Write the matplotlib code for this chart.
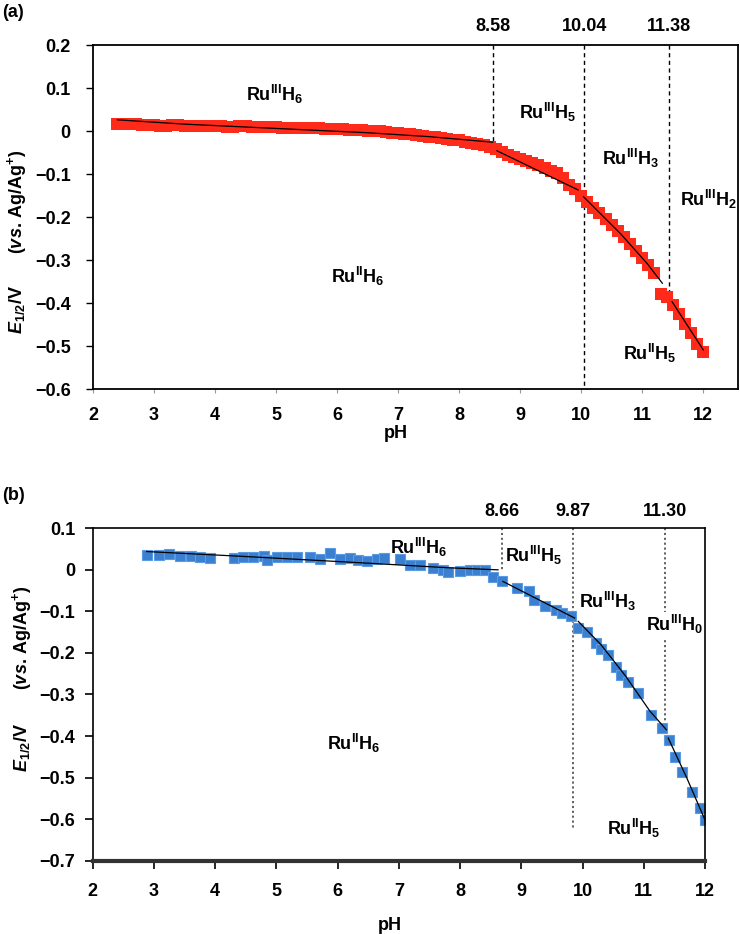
import matplotlib
matplotlib.use("Agg")
import matplotlib.pyplot as plt
import numpy as np

plt.rcParams['font.family'] = ['Liberation Sans', 'DejaVu Sans']
plt.rcParams['font.weight'] = 'bold'
plt.rcParams['mathtext.fontset'] = 'custom'
plt.rcParams['mathtext.rm'] = 'Liberation Sans:bold'
plt.rcParams['mathtext.bf'] = 'Liberation Sans:bold'
plt.rcParams['mathtext.it'] = 'Liberation Sans:italic:bold'

# ---------------- Panel (a) data ----------------
ph_a = [2.4, 2.5, 2.6, 2.7, 2.8, 2.9, 3.0,
        3.1, 3.2, 3.3, 3.4, 3.5, 3.6, 3.7, 3.8, 3.9, 4.0,
        4.1, 4.2, 4.3, 4.4, 4.5, 4.6, 4.7, 4.8, 4.9, 5.0,
        5.1, 5.2, 5.3, 5.4, 5.5, 5.6, 5.7, 5.8, 5.9, 6.0,
        6.1, 6.2, 6.3, 6.4, 6.5, 6.6, 6.7, 6.8, 6.9, 7.0,
        7.1, 7.2, 7.3, 7.4, 7.5, 7.6, 7.7, 7.8, 7.9, 8.0,
        8.1, 8.2, 8.3, 8.4, 8.5, 8.6, 8.7, 8.8, 8.9, 9.0,
        9.1, 9.2, 9.3, 9.4, 9.5, 9.6, 9.7, 9.8, 9.9, 10.0,
        10.1, 10.2, 10.3, 10.4, 10.5, 10.6, 10.7, 10.8, 10.9, 11.0,
        11.1, 11.2, 11.3, 11.4, 11.5, 11.6, 11.7, 11.8, 11.9, 12.0]
e_a = [0.017, 0.017, 0.016, 0.016, 0.015, 0.014, 0.013,
       0.012, 0.012, 0.013, 0.013, 0.012, 0.011, 0.011, 0.012, 0.012, 0.011,
       0.011, 0.010, 0.010, 0.011, 0.011, 0.010, 0.010, 0.009, 0.009, 0.009,
       0.008, 0.008, 0.008, 0.007, 0.007, 0.006, 0.006, 0.005, 0.005, 0.004,
       0.004, 0.003, 0.003, 0.002, 0.001, 0.000, -0.001, -0.002, -0.004, -0.005,
       -0.007, -0.008, -0.010, -0.012, -0.013, -0.015, -0.017, -0.018, -0.020, -0.022,
       -0.025, -0.027, -0.030, -0.033, -0.038, -0.042, -0.048, -0.055, -0.060, -0.065,
       -0.070, -0.075, -0.080, -0.086, -0.092, -0.098, -0.110, -0.125, -0.135, -0.150,
       -0.165, -0.178, -0.190, -0.205, -0.218, -0.232, -0.247, -0.262, -0.280, -0.295,
       -0.312, -0.330, -0.378, -0.385, -0.405, -0.425, -0.448, -0.470, -0.495, -0.515]

fit_a = [
    ([2.4, 3.5, 5.0, 6.5, 7.5, 8.55], [0.026, 0.016, 0.006, -0.004, -0.013, -0.026]),
    ([8.62, 9.95], [-0.046, -0.137]),
    ([10.04, 10.64, 11.08, 11.33], [-0.153, -0.238, -0.308, -0.354]),
    ([11.49, 12.0], [-0.397, -0.509]),
]
pka_a_labels = ['8.58', '10.04', '11.38']
pka_a_pos = [8.55, 10.05, 11.44]
pka_a_bottom = [-0.052, -0.6, -0.377]

species_a = [
    (r'Ru$^{\mathrm{III}}$H$_6$', 4.98, 0.084),
    (r'Ru$^{\mathrm{III}}$H$_5$', 9.44, 0.044),
    (r'Ru$^{\mathrm{III}}$H$_3$', 10.8, -0.064),
    (r'Ru$^{\mathrm{III}}$H$_2$', 12.08, -0.160),
    (r'Ru$^{\mathrm{II}}$H$_6$', 6.34, -0.339),
    (r'Ru$^{\mathrm{II}}$H$_5$', 11.13, -0.517),
]

# ---------------- Panel (b) data ----------------
ph_b = [2.88, 3.08, 3.24, 3.43, 3.60, 3.76, 3.92, 4.30, 4.46, 4.62, 4.79, 4.85,
        5.01, 5.17, 5.33, 5.55, 5.72, 5.88, 6.04, 6.20, 6.34, 6.48, 6.64, 6.75,
        7.02, 7.18, 7.35, 7.56, 7.72, 7.81, 8.00, 8.16, 8.27, 8.41, 8.54, 8.68,
        8.93, 9.12, 9.20, 9.39, 9.56, 9.67, 9.81, 9.92, 10.08, 10.22, 10.30, 10.41,
        10.55, 10.63, 10.74, 10.90, 11.12, 11.29, 11.42, 11.51, 11.62, 11.78, 11.92, 12.0]
e_b = [0.036, 0.036, 0.038, 0.033, 0.033, 0.031, 0.029, 0.029, 0.031, 0.031, 0.033, 0.024,
       0.031, 0.031, 0.031, 0.031, 0.026, 0.040, 0.026, 0.029, 0.023, 0.021, 0.026, 0.028,
       0.026, 0.012, 0.012, 0.004, 0.000, -0.006, -0.002, 0.000, 0.000, 0.000, -0.018, -0.026,
       -0.044, -0.052, -0.072, -0.088, -0.096, -0.104, -0.112, -0.141, -0.149, -0.177, -0.190, -0.205,
       -0.233, -0.253, -0.269, -0.297, -0.349, -0.381, -0.410, -0.450, -0.486, -0.534, -0.574, -0.602]

fit_b = [
    ([2.88, 4.5, 6.5, 7.8, 8.62], [0.044, 0.032, 0.016, 0.005, 0.0]),
    ([8.70, 9.87], [-0.028, -0.116]),
    ([9.93, 10.3, 10.7, 11.1, 11.37], [-0.124, -0.180, -0.255, -0.340, -0.385]),
    ([11.40, 11.7, 12.0], [-0.405, -0.500, -0.602]),
]
pka_b_labels = ['8.66', '9.87', '11.30']
pka_b_pos = [8.68, 9.85, 11.35]
pka_b_bottom = [0.0, -0.627, -0.378]

species_b = [
    (r'Ru$^{\mathrm{III}}$H$_6$', 7.32, 0.053, False),
    (r'Ru$^{\mathrm{III}}$H$_5$', 9.20, 0.034, False),
    (r'Ru$^{\mathrm{III}}$H$_3$', 10.40, -0.076, False),
    (r'Ru$^{\mathrm{III}}$H$_0$', 11.50, -0.132, True),
    (r'Ru$^{\mathrm{II}}$H$_6$', 6.27, -0.417, False),
    (r'Ru$^{\mathrm{II}}$H$_5$', 10.83, -0.622, False),
]

fig = plt.figure(figsize=(7.4, 9.34), dpi=100)
FS = 13

# ---------------- Panel (a) ----------------
axa = fig.add_axes([0.1257, 0.5835, 0.8716, 0.3683])
axa.set_xlim(2, 12.57)
axa.set_ylim(-0.6, 0.2)
axa.plot(ph_a, e_a, 's', color='#ff2a1a', markersize=8.5, markeredgewidth=0, zorder=2)
for xs, ys in fit_a:
    axa.plot(xs, ys, '-', color='black', lw=0.9, zorder=3)
for lab, xp, yb in zip(pka_a_labels, pka_a_pos, pka_a_bottom):
    axa.plot([xp, xp], [0.2, yb], color='black', lw=1.0, ls=(0, (3, 2.5)), zorder=1)
    axa.text(xp, 0.242, lab, ha='center', va='center', fontsize=FS, fontweight='bold',
             clip_on=False)
for s, xp, yp in species_a:
    axa.text(xp, yp, s, ha='center', va='center', fontsize=FS, fontweight='bold', clip_on=False)
axa.set_xticks(range(2, 13))
axa.set_yticks(np.arange(-0.6, 0.21, 0.1))
axa.set_yticklabels(['\u22120.6', '\u22120.5', '\u22120.4', '\u22120.3', '\u22120.2', '\u22120.1',
                     '0', '0.1', '0.2'])
axa.tick_params(axis='y', direction='out', length=5, width=1, labelsize=FS, pad=11)
axa.tick_params(axis='x', direction='out', length=3, width=0.8, color='#999999', labelsize=FS, pad=10)
for sp in axa.spines.values():
    sp.set_linewidth(1.3)
axa.set_xlabel('pH', fontsize=FS, fontweight='bold', labelpad=1)
axa.xaxis.set_label_coords(0.47, -0.105)
for lab in axa.get_xticklabels() + axa.get_yticklabels():
    lab.set_fontweight('bold')
axa.text(-0.118, 0.23, r'$E_{1/2}$/V', transform=axa.transAxes, rotation=90,
         ha='center', va='center', fontsize=FS)
axa.text(-0.118, 0.545, r'($\mathit{vs}$. Ag/Ag$^{+}$)', transform=axa.transAxes, rotation=90,
         ha='center', va='center', fontsize=FS)
fig.text(0.003, 0.987, '(a)', fontsize=FS, fontweight='bold', ha='left', va='center')

# ---------------- Panel (b) ----------------
axb = fig.add_axes([0.1253, 0.0785, 0.8274, 0.3559])
axb.set_xlim(2, 12)
axb.set_ylim(-0.7, 0.1)
axb.plot(ph_b, e_b, 's', color='#3a7fd0', markersize=6.8, markeredgecolor='#5b9be3',
         markeredgewidth=0.8, zorder=2)
for xs, ys in fit_b:
    axb.plot(xs, ys, '-', color='black', lw=0.9, zorder=3)
for lab, xp, yb in zip(pka_b_labels, pka_b_pos, pka_b_bottom):
    axb.plot([xp, xp], [0.1, yb], color='#555555', lw=1.3, ls=(0, (1.2, 1.5)), zorder=1)
    axb.text(xp, 0.14, lab, ha='center', va='center', fontsize=FS, fontweight='bold',
             clip_on=False)
for s, xp, yp, box in species_b:
    kw = {}
    if box:
        kw['bbox'] = dict(facecolor='white', edgecolor='none', pad=1)
    axb.text(xp, yp, s, ha='center', va='center', fontsize=FS, fontweight='bold',
             clip_on=False, zorder=4, **kw)
axb.set_xticks(range(2, 13))
axb.set_yticks(np.arange(-0.7, 0.11, 0.1))
axb.set_yticklabels(['\u22120.7', '\u22120.6', '\u22120.5', '\u22120.4', '\u22120.3', '\u22120.2',
                     '\u22120.1', '0', '0.1'])
axb.tick_params(axis='both', direction='out', length=6, width=1.2, labelsize=FS)
axb.tick_params(axis='x', pad=10)
axb.tick_params(axis='y', pad=6.5)
for sp in axb.spines.values():
    sp.set_linewidth(1.2)
axb.spines['bottom'].set_linewidth(3)
axb.spines['bottom'].set_color('#333333')
axb.set_xlabel('pH', fontsize=FS, fontweight='bold')
axb.xaxis.set_label_coords(0.485, -0.17)
for lab in axb.get_xticklabels() + axb.get_yticklabels():
    lab.set_fontweight('bold')
axb.text(-0.115, 0.34, r'$E_{1/2}$/V', transform=axb.transAxes, rotation=90,
         ha='center', va='center', fontsize=FS)
axb.text(-0.115, 0.67, r'($\mathit{vs}$. Ag/Ag$^{+}$)', transform=axb.transAxes, rotation=90,
         ha='center', va='center', fontsize=FS)
fig.text(0.003, 0.47, '(b)', fontsize=FS, fontweight='bold', ha='left', va='center')

fig.savefig('out.png', dpi=100)
